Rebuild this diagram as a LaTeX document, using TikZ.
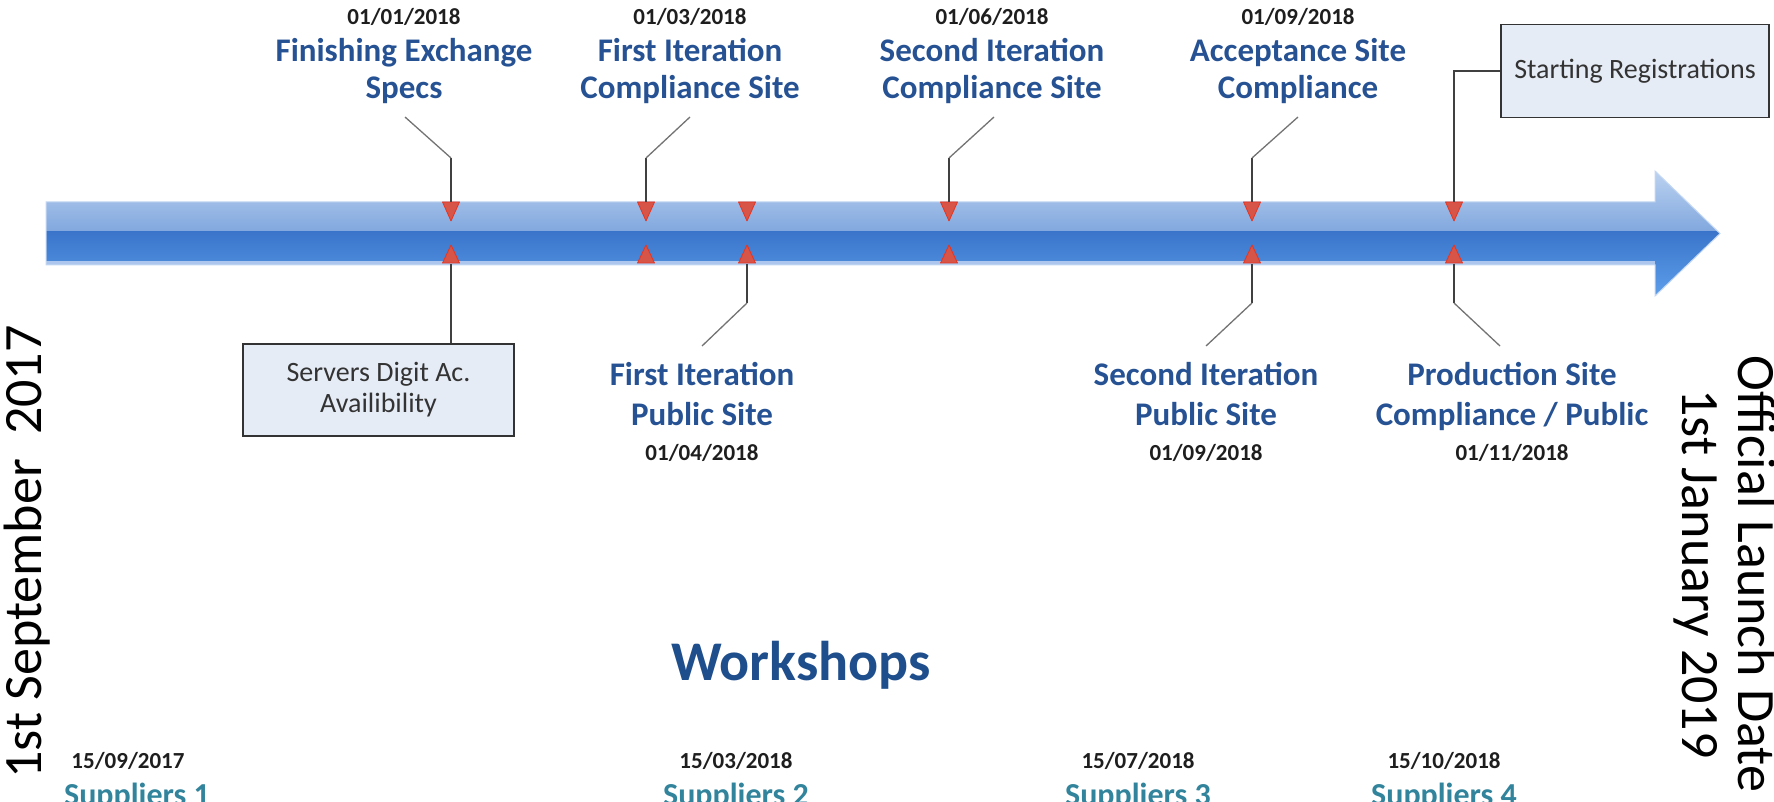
\documentclass[tikz,border=0pt]{standalone}
\usepackage{fontspec}
\setmainfont{Carlito}
\usetikzlibrary{calc}
\definecolor{lblue}{RGB}{38,82,148}
\definecolor{wblue}{RGB}{31,78,140}
\definecolor{supcol}{RGB}{49,132,155}
\definecolor{mkfill}{RGB}{214,84,72}
\definecolor{mkdraw}{RGB}{232,52,30}
\definecolor{boxfill}{RGB}{230,236,246}
\definecolor{upA}{RGB}{188,210,240}
\definecolor{upB}{RGB}{128,167,222}
\definecolor{loA}{RGB}{58,117,203}
\definecolor{loB}{RGB}{93,158,234}
\definecolor{stripecol}{RGB}{172,198,238}
\definecolor{edgecol}{RGB}{196,215,242}
\definecolor{datecol}{RGB}{30,30,30}
\begin{document}
\begin{tikzpicture}[x=1pt,y=-1pt,
  lbl/.style={font=\fontsize{33}{36}\selectfont\bfseries, text=lblue, inner sep=0pt, anchor=base},
  dt/.style={font=\fontsize{23}{26}\selectfont\bfseries, text=datecol, inner sep=0pt, anchor=base},
  suplbl/.style={font=\fontsize{32}{36}\selectfont\bfseries, text=supcol, inner sep=0pt, anchor=base},
  infobox/.style={draw=black!80, line width=1.5pt, fill=boxfill, align=center,
    font=\fontsize{28}{31}\selectfont, text=black!80, inner sep=0pt},
  leader/.style={draw=black!75, line width=1.4pt},
  diag/.style={draw=black!55, line width=1.3pt},
  mkr/.style={fill=mkfill, draw=mkdraw, line width=0.8pt, line join=round},
  sidetxt/.style={font=\fontsize{54}{56}\selectfont, text=black, inner sep=0pt, anchor=base}
]
\useasboundingbox (0,0) rectangle (1774,802);

% ---------- timeline arrow ----------
\begin{scope}
  \clip (46,202) -- (1655,202) -- (1655,171) -- (1720,233.5) -- (1655,296) -- (1655,265) -- (46,265) -- cycle;
  \shade[top color=upA, bottom color=upB] (40,171) rectangle (1725,232);
  \shade[top color=loA, bottom color=loB] (40,232) rectangle (1725,296);
  \fill[stripecol] (40,261.5) rectangle (1655,265);
\end{scope}
\draw[edgecol, line width=1pt] (46,202) -- (1655,202) -- (1655,171) -- (1720,233.5) -- (1655,296) -- (1655,265) -- (46,265) -- cycle;

% ---------- markers ----------
\foreach \n/\x in {1/451, 2/646, 3/747, 4/949, 5/1252, 6/1454} {
  \coordinate (t\n) at (\x,202);
  \coordinate (b\n) at (\x,264);
  \draw[mkr] (\x-8.5,202) -- (\x+8.5,202) -- (\x,221) -- cycle;
  \draw[mkr] (\x-8.5,263) -- (\x+8.5,263) -- (\x,245) -- cycle;
}

% ---------- leader end points ----------
\coordinate (u1) at (405,117);
\coordinate (u2) at (690,117);
\coordinate (u4) at (994,117);
\coordinate (u5) at (1298,117);
\coordinate (d3) at (702,346);
\coordinate (d5) at (1206,346);
\coordinate (d6) at (1500,346);

% ---------- boxes ----------
\node[infobox, minimum width=271pt, minimum height=92pt] (srv) at (378.5,390) {Servers Digit Ac.\\Availibility};
\node[infobox, minimum width=268pt, minimum height=93pt] (reg) at (1635,71) {Starting Registrations};

% ---------- leaders ----------
\draw[leader] (t1) -- ++(0,-44) coordinate (k1);
\draw[diag] (k1) -- (u1);
\draw[leader] (t2) -- ++(0,-44) coordinate (k2);
\draw[diag] (k2) -- (u2);
\draw[leader] (t4) -- ++(0,-44) coordinate (k4);
\draw[diag] (k4) -- (u4);
\draw[leader] (t5) -- ++(0,-44) coordinate (k5);
\draw[diag] (k5) -- (u5);
\draw[leader] (t6) -- (t6 |- reg.west) -- (reg.west);

\draw[leader] (b1) -- (b1 |- srv.north);
\draw[leader] (b3) -- ++(0,39) coordinate (j3);
\draw[diag] (j3) -- (d3);
\draw[leader] (b5) -- ++(0,39) coordinate (j5);
\draw[diag] (j5) -- (d5);
\draw[leader] (b6) -- ++(0,39) coordinate (j6);
\draw[diag] (j6) -- (d6);

% ---------- top labels ----------
\node[dt]  (td1) at (404,25) {01/01/2018};
\node[lbl] (ta1) at (404,62) {Finishing Exchange};
\node[lbl] (tb1) at (404,99) {Specs};
\node[dt]  (td2) at (690,25) {01/03/2018};
\node[lbl] (ta2) at (690,62) {First Iteration};
\node[lbl] (tb2) at (690,99) {Compliance Site};
\node[dt]  (td4) at (992,25) {01/06/2018};
\node[lbl] (ta4) at (992,62) {Second Iteration};
\node[lbl] (tb4) at (992,99) {Compliance Site};
\node[dt]  (td5) at (1298,25) {01/09/2018};
\node[lbl] (ta5) at (1298,62) {Acceptance Site};
\node[lbl] (tb5) at (1298,99) {Compliance};

% ---------- bottom labels ----------
\node[lbl] (ba3) at (702,385) {First Iteration};
\node[lbl] (bb3) at (702,425) {Public Site};
\node[dt]  (bd3) at (702,460) {01/04/2018};
\node[lbl] (ba5) at (1206,385) {Second Iteration};
\node[lbl] (bb5) at (1206,425) {Public Site};
\node[dt]  (bd5) at (1206,460) {01/09/2018};
\node[lbl] (ba6) at (1512,385) {Production Site};
\node[lbl] (bb6) at (1512,425) {Compliance / Public};
\node[dt]  (bd6) at (1512,460) {01/11/2018};

% ---------- workshops ----------
\node[font=\fontsize{56}{60}\selectfont\bfseries, text=wblue, inner sep=0pt, anchor=base] (ws) at (801,680) {Workshops};

\node[dt] (wd1) at (128,768) {15/09/2017};
\node[suplbl] (ws1) at (137,805) {Suppliers 1};
\node[dt] (wd2) at (736,768) {15/03/2018};
\node[suplbl] (ws2) at (736,805) {Suppliers 2};
\node[dt] (wd3) at (1138,768) {15/07/2018};
\node[suplbl] (ws3) at (1138,805) {Suppliers 3};
\node[dt] (wd4) at (1444,768) {15/10/2018};
\node[suplbl] (ws4) at (1444,805) {Suppliers 4};

% ---------- side texts ----------
\node[sidetxt, rotate=90] (start) at (41,552) {1st September\ \ 2017};
\node[sidetxt, rotate=-90] (launch) at (1738,574) {Official Launch Date};
\node[sidetxt, rotate=-90] (launchd) at (1682,574) {1st January 2019};
\end{tikzpicture}
\end{document}
